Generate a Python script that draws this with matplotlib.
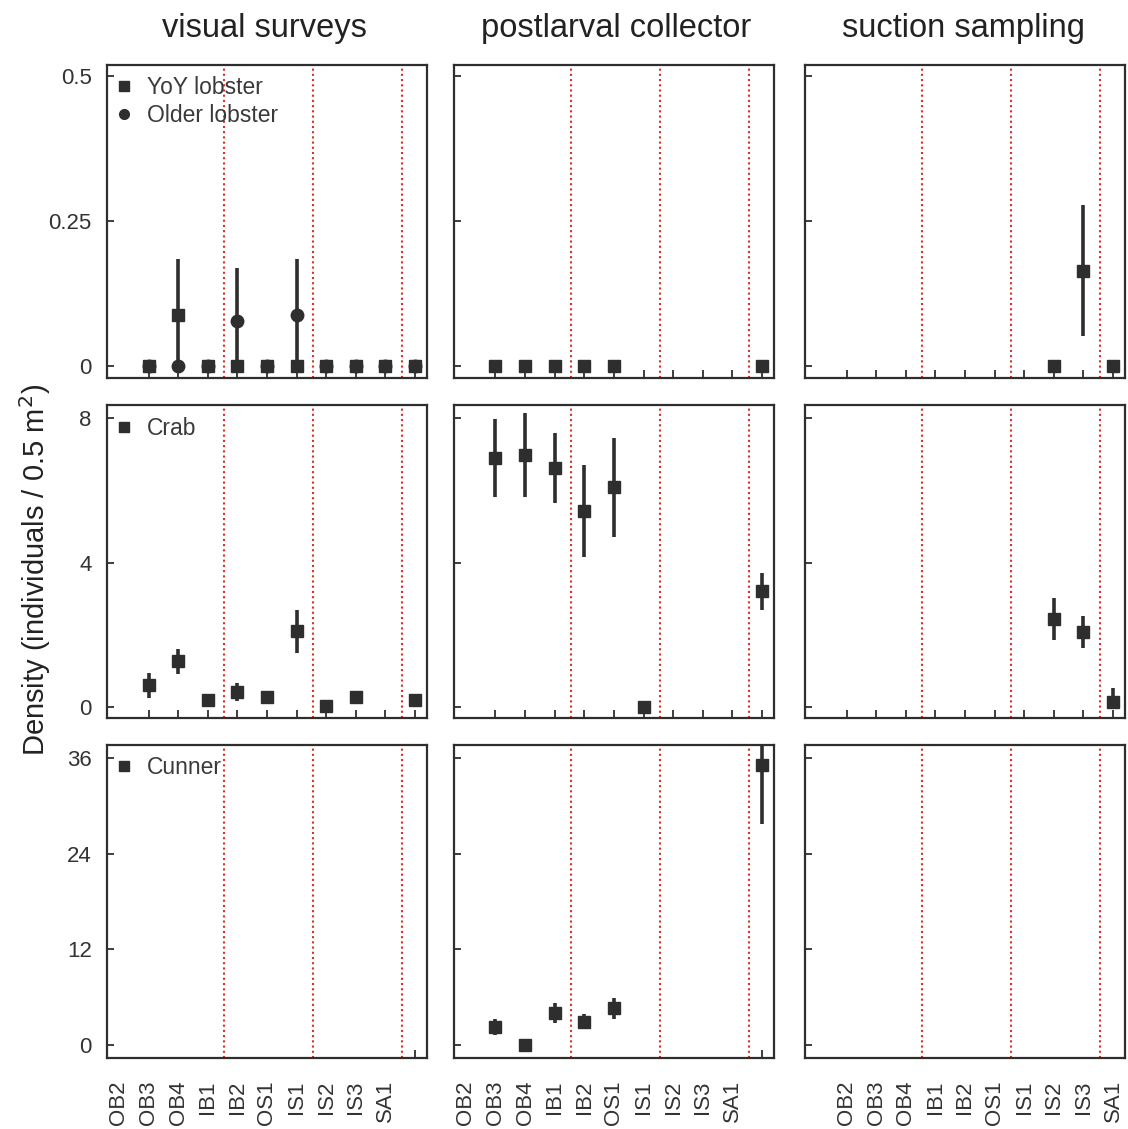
import numpy as np
import matplotlib
matplotlib.use("Agg")
import matplotlib.pyplot as plt
from matplotlib.ticker import NullFormatter
from matplotlib.lines import Line2D

plt.rcParams['font.family'] = ['Liberation Sans', 'DejaVu Sans']

sites = ["OB2", "OB3", "OB4", "IB1", "IB2", "OS1", "IS1", "IS2", "IS3", "SA1"]
methods = ["visual surveys", "postlarval collector", "suction sampling"]
nan = np.nan

# lobster (YoY and older), density per 0.5 m2
yoy_visual = [0, 0.088, 0, 0, 0, 0, 0, 0, 0, 0]
yoy_visual_se = [0, 0.096, 0, 0, 0, 0, 0, 0, 0, 0]
older_visual = [0, 0, 0, 0.078, 0, 0.088, 0, 0, 0, 0]
older_visual_se = [0, 0, 0, 0.091, 0, 0.096, 0, 0, 0, 0]
yoy_collector = [0, 0, 0, 0, 0, nan, nan, nan, nan, 0]
yoy_collector_se = [0, 0, 0, 0, 0, nan, nan, nan, nan, 0]
yoy_suction = [nan, nan, nan, nan, nan, nan, nan, 0, 0.164, 0]
yoy_suction_se = [nan, nan, nan, nan, nan, nan, nan, 0, 0.113, 0]

# crab
crab_visual = [0.61, 1.27, 0.19, 0.42, 0.28, 2.1, 0.03, 0.28, nan, 0.2]
crab_visual_se = [0.35, 0.35, 0.1, 0.26, 0.1, 0.6, 0, 0.15, nan, 0.06]
crab_collector = [6.9, 6.98, 6.62, 5.43, 6.09, 0, nan, nan, nan, 3.21]
crab_collector_se = [1.08, 1.17, 0.96, 1.27, 1.37, 0, nan, nan, nan, 0.51]
crab_suction = [nan, nan, nan, nan, nan, nan, nan, 2.44, 2.08, 0.14]
crab_suction_se = [nan, nan, nan, nan, nan, nan, nan, 0.58, 0.44, 0.39]

# cunner
cunner_visual = [nan] * 10
cunner_visual_se = [nan] * 10
cunner_collector = [2.26, 0, 4.0, 2.9, 4.6, nan, nan, nan, nan, 35.1]
cunner_collector_se = [1.0, 0, 1.2, 0.95, 1.3, nan, nan, nan, nan, 7.4]
cunner_suction = [nan] * 10
cunner_suction_se = [nan] * 10

ylims = [(-0.021, 0.519), (-0.30, 8.36), (-1.63, 37.6)]
yticks = [[0, 0.25, 0.5], [0, 4, 8], [0, 12, 24, 36]]
yticklabels = [["0", "0.25", "0.5"], ["0", "4", "8"], ["0", "12", "24", "36"]]
group_breaks = [3.55, 6.55, 9.55]

ink = "#2e2e2e"
lefts = [0.0949, 0.4025, 0.7137]
bottoms = [0.6652, 0.3640, 0.0629]
w, h = 0.2835, 0.2772
title_x = [264, 616, 964]

fig = plt.figure(figsize=(11.28, 11.29), dpi=100)


def draw(ax, vals, se, marker, ms):
    vals = np.array(vals, dtype=float)
    se = np.array(se, dtype=float)
    lower = np.minimum(se, vals)
    x = np.arange(1, len(vals) + 1)
    ax.errorbar(x, vals, yerr=[lower, se], fmt=marker, color=ink, ms=ms,
                elinewidth=2.6, capsize=0, zorder=3)


panels = [
    [[(older_visual, older_visual_se, "o", "Older lobster", 9),
      (yoy_visual, yoy_visual_se, "s", "YoY lobster", 8.5)],
     [(yoy_collector, yoy_collector_se, "s", "YoY lobster", 8.5)],
     [(yoy_suction, yoy_suction_se, "s", "YoY lobster", 8.5)]],
    [[(crab_visual, crab_visual_se, "s", "Crab", 8.5)],
     [(crab_collector, crab_collector_se, "s", "Crab", 8.5)],
     [(crab_suction, crab_suction_se, "s", "Crab", 8.5)]],
    [[(cunner_visual, cunner_visual_se, "s", "Cunner", 8.5)],
     [(cunner_collector, cunner_collector_se, "s", "Cunner", 8.5)],
     [(cunner_suction, cunner_suction_se, "s", "Cunner", 8.5)]],
]

for r in range(3):
    for c in range(3):
        ax = fig.add_axes([lefts[c], bottoms[r], w, h])
        for xb in group_breaks:
            ax.axvline(xb, color="#d9302a", ls=(0, (1, 1.5)), lw=1.5, zorder=1)
        labels = {}
        for vals, se, mk, lab, ms in panels[r][c]:
            draw(ax, vals, se, mk, ms)
            labels[lab] = mk
        ax.set_xlim(-0.4, 10.4)
        ax.set_ylim(*ylims[r])
        ax.set_yticks(yticks[r])
        if c == 0:
            ax.set_yticklabels(yticklabels[r])
        else:
            ax.yaxis.set_major_formatter(NullFormatter())
        # tick marks at the data positions
        ax.set_xticks(np.arange(1, 11), minor=True)
        ax.tick_params(axis="x", which="minor", direction="in", length=6, width=1.3, color=ink)
        if r == 2:
            # labels sit one step left of the marks in the first two columns
            pos = np.arange(0, 10) if c < 2 else np.arange(1, 11)
            ax.set_xticks(pos)
            ax.set_xticklabels(sites, rotation=90)
            ax.tick_params(axis="x", which="major", length=0, pad=16, labelsize=16,
                           labelcolor="#333333")
        else:
            ax.set_xticks([])
        ax.tick_params(axis="y", direction="in", length=5, width=1.3, color=ink,
                       labelsize=16, pad=11, labelcolor="#333333")
        for sp in ax.spines.values():
            sp.set_color(ink)
            sp.set_linewidth(1.6)
        if c == 0:
            order = [k for k in ["YoY lobster", "Older lobster", "Crab", "Cunner"] if k in labels]
            handles = [Line2D([], [], ls="none", marker=labels[k], color=ink, ms=7)
                       for k in order]
            leg = ax.legend(handles, order, loc="upper left", frameon=False,
                            fontsize=16.5, handlelength=0.5, handletextpad=0.75,
                            borderaxespad=0.2, borderpad=0.3, labelspacing=0.2)
            for t in leg.get_texts():
                t.set_color("#3a3a3a")

for c in range(3):
    fig.text(title_x[c] / 1128, 1 - 28 / 1129, methods[c], fontsize=23.5,
             ha="center", va="center", color="#222222")

fig.text(0.031, 0.495, "Density (individuals / 0.5 m$^2$)", rotation=90,
         fontsize=21, va="center", ha="center", color="#222222")

fig.savefig("out.png", dpi=100, facecolor="white")
